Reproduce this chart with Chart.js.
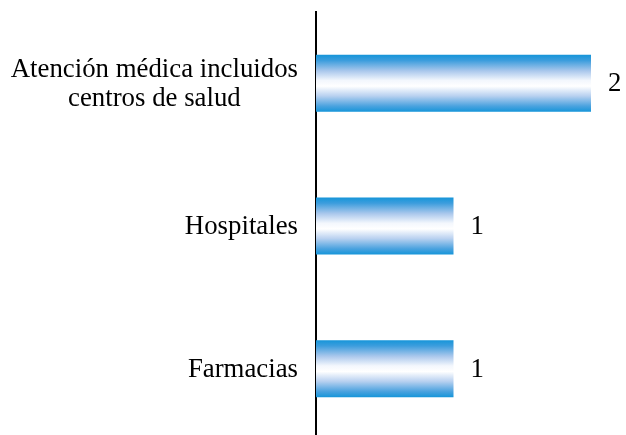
<!DOCTYPE html>
<html>
<head>
<meta charset="utf-8">
<script src="https://cdn.jsdelivr.net/npm/chart.js@4/dist/chart.umd.min.js"></script>
<style>
html,body{margin:0;padding:0;background:#fff;overflow:hidden;}
#wrap{position:relative;width:626px;height:440px;}
</style>
</head>
<body>
<div id="wrap"><canvas id="c"></canvas></div>
<script>
const categories = [["Atención médica incluidos", "centros de salud"], "Hospitales", "Farmacias"];
const values = [2, 1, 1];
const axisMax = 2;

const FONT = '26.8px "Liberation Serif", "Times New Roman", serif';

function barGradient(ctx) {
  const chart = ctx.chart;
  const area = chart.chartArea;
  if (!area || ctx.dataIndex === undefined) return '#1795da';
  const y = chart.scales.y.getPixelForValue(ctx.dataIndex);
  const h = (area.bottom - area.top) / categories.length * 0.4;
  const g = chart.ctx.createLinearGradient(0, y - h / 2, 0, y + h / 2);
  g.addColorStop(0, '#1595d9');
  g.addColorStop(0.1, '#3c9ddd');
  g.addColorStop(0.28, '#a9c7ec');
  g.addColorStop(0.45, '#f3f7fd');
  g.addColorStop(0.55, '#ffffff');
  g.addColorStop(0.72, '#b9d1f0');
  g.addColorStop(0.9, '#4aa2df');
  g.addColorStop(1, '#1595d9');
  return g;
}

const labelsPlugin = {
  id: 'labelsPlugin',
  afterDatasetsDraw(chart) {
    const c = chart.ctx;
    const meta = chart.getDatasetMeta(0);
    c.save();
    c.font = FONT;
    c.fillStyle = '#000';
    c.textBaseline = 'middle';
    c.textAlign = 'left';
    meta.data.forEach((el, i) => {
      c.fillText(String(values[i]), el.x + 17, el.y + 1);
    });
    const yScale = chart.scales.y;
    const right = chart.chartArea.left - 18;
    const lh = 29;
    categories.forEach((lab, i) => {
      const lines = Array.isArray(lab) ? lab : [lab];
      const w = Math.max(...lines.map(l => c.measureText(l).width));
      const cx = right - w / 2;
      const cy = yScale.getPixelForTick(i) + 1;
      c.textAlign = 'center';
      lines.forEach((l, j) => {
        c.fillText(l, cx, cy + (j - (lines.length - 1) / 2) * lh);
      });
    });
    c.restore();
  }
};

new Chart(document.getElementById('c'), {
  type: 'bar',
  data: {
    labels: categories,
    datasets: [{
      data: values,
      backgroundColor: barGradient,
      borderWidth: 0,
      barPercentage: 0.4,
      categoryPercentage: 1
    }]
  },
  options: {
    indexAxis: 'y',
    responsive: true,
    maintainAspectRatio: false,
    animation: false,
    devicePixelRatio: 1,
    layout: { padding: { top: 12, right: 35, bottom: 0, left: 0 } },
    plugins: { legend: { display: false }, tooltip: { enabled: false } },
    scales: {
      x: { display: false, min: 0, max: axisMax },
      y: {
        display: true,
        ticks: { display: false },
        grid: { display: false, drawTicks: false },
        border: { display: true, color: '#000', width: 2 },
        afterFit(scale) { scale.width = 316; }
      }
    }
  },
  plugins: [labelsPlugin]
});
</script>
</body>
</html>
